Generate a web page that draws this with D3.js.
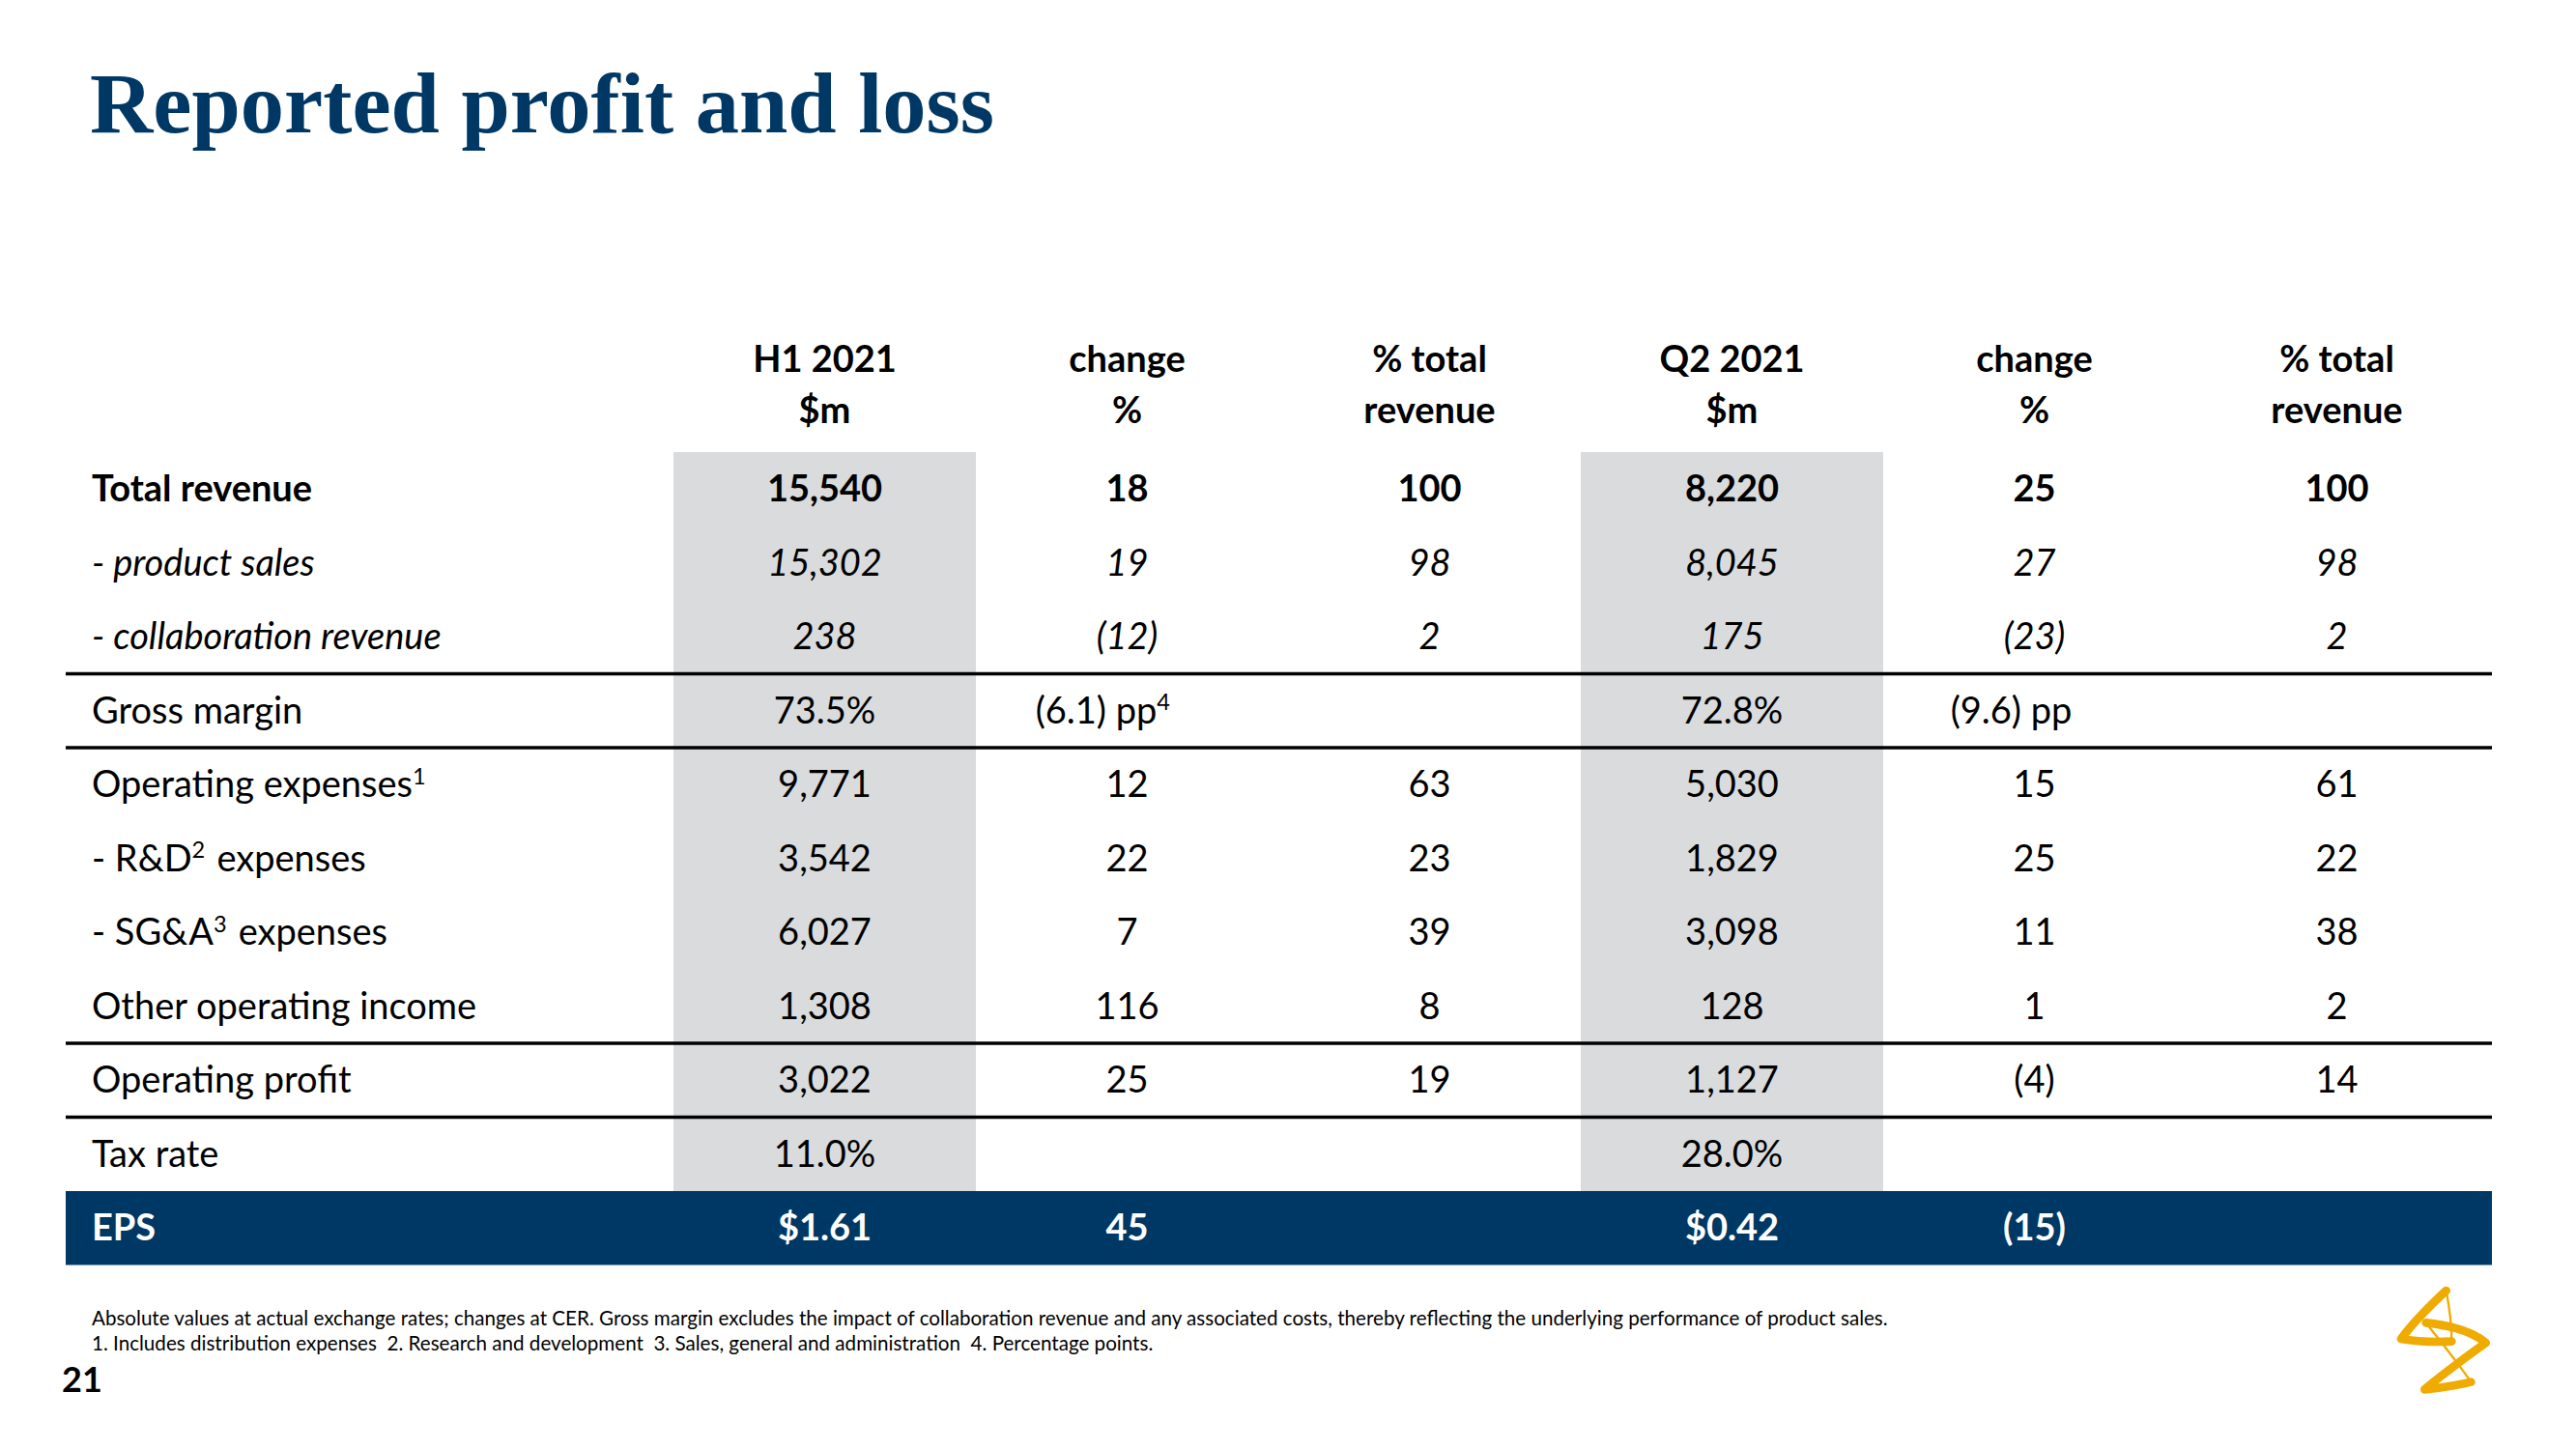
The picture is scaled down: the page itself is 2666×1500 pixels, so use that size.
<!DOCTYPE html>
<html>
<head>
<meta charset="utf-8">
<script src="https://cdn.jsdelivr.net/npm/d3@7"></script>
<style>
  html, body { margin: 0; padding: 0; background: #fff; }
  svg { display: block; }
  text { white-space: pre; }
</style>
</head>
<body>
<svg id="chart" width="2666" height="1500"></svg>
<script>
// ---------------- DATA ----------------
const title = "Reported profit and loss";
const headerLine1 = ["H1 2021", "change", "% total", "Q2 2021", "change", "% total"];
const headerLine2 = ["$m", "%", "revenue", "$m", "%", "revenue"];
const rowLabels = [
  "Total revenue", "- product sales", "- collaboration revenue", "Gross margin",
  "Operating expenses^1", "- R&D^2 expenses", "- SG&A^3 expenses", "Other operating income",
  "Operating profit", "Tax rate", "EPS"
];
const rowStyles = ["bold", "italic", "italic", "normal", "normal", "normal", "normal", "normal", "normal", "normal", "eps"];
const h1Value  = ["15,540", "15,302", "238", "73.5%", "9,771", "3,542", "6,027", "1,308", "3,022", "11.0%", "$1.61"];
const h1Change = ["18", "19", "(12)", "(6.1) pp^4", "12", "22", "7", "116", "25", "", "45"];
const h1Pct    = ["100", "98", "2", "", "63", "23", "39", "8", "19", "", ""];
const q2Value  = ["8,220", "8,045", "175", "72.8%", "5,030", "1,829", "3,098", "128", "1,127", "28.0%", "$0.42"];
const q2Change = ["25", "27", "(23)", "(9.6) pp", "15", "25", "11", "1", "(4)", "", "(15)"];
const q2Pct    = ["100", "98", "2", "", "61", "22", "38", "2", "14", "", ""];
const shadedColumns = [0, 3];
const ruleAfterRows = [2, 3, 7, 8];
const footnote1 = "Absolute values at actual exchange rates; changes at CER. Gross margin excludes the impact of collaboration revenue and any associated costs, thereby reflecting the underlying performance of product sales.";
const footnote2 = "1. Includes distribution expenses  2. Research and development  3. Sales, general and administration  4. Percentage points.";
const pageNumber = "21";

// ---------------- LAYOUT ----------------
const navy = "#003865";
const grey = "#d9dbdc";
const font = "Lato, 'Open Sans', sans-serif";
const fs = 38;           // body font size
const capOff = 13;       // baseline offset from row centre

const columns = [h1Value, h1Change, h1Pct, q2Value, q2Change, q2Pct];
const svg = d3.select("#chart");
svg.append("rect").attr("width", 2666).attr("height", 1500).attr("fill", "#fff");

const x = d3.scaleBand().domain(d3.range(columns.length)).range([697, 2575]).padding(0);
const y = d3.scaleBand().domain(d3.range(rowLabels.length)).range([468, 1309.5]).padding(0);
const tableLeft = 68, tableRight = 2579;

// title
svg.append("text")
  .attr("x", 93).attr("y", 137)
  .attr("font-family", "'Liberation Serif', 'DejaVu Serif', serif")
  .attr("font-weight", "bold").attr("font-size", 89)
  .attr("fill", navy)
  .attr("textLength", 936).attr("lengthAdjust", "spacingAndGlyphs")
  .text(title);

// shaded columns (stop at the EPS row)
const lastGrey = rowLabels.length - 2;
svg.selectAll("rect.shade").data(shadedColumns).join("rect")
  .attr("class", "shade")
  .attr("x", d => x(d)).attr("width", x.bandwidth())
  .attr("y", y(0)).attr("height", y(lastGrey) + y.bandwidth() - y(0))
  .attr("fill", grey);

// EPS bar
const epsRow = rowLabels.length - 1;
svg.append("rect")
  .attr("x", tableLeft).attr("width", tableRight - tableLeft)
  .attr("y", y(epsRow)).attr("height", y.bandwidth())
  .attr("fill", navy);

// rules
svg.selectAll("line.rule").data(ruleAfterRows).join("line")
  .attr("class", "rule")
  .attr("x1", tableLeft).attr("x2", tableRight)
  .attr("y1", d => y(d) + y.bandwidth()).attr("y2", d => y(d) + y.bandwidth())
  .attr("stroke", "#000").attr("stroke-width", 3.5);

// helper: write text with ^n superscripts
function writeRich(sel, str, size) {
  const parts = str.split(/\^(\d)/);
  parts.forEach((p, i) => {
    if (p === "") return;
    if (i % 2 === 1) {
      sel.append("tspan").attr("font-size", size * 0.62).attr("dy", -size * 0.36).text(p);
      sel.append("tspan").attr("font-size", size).attr("dy", size * 0.36).text("\u200A");
    } else {
      sel.append("tspan").text(p);
    }
  });
}

function styleFor(r) {
  const s = rowStyles[r];
  return {
    weight: (s === "bold" || s === "eps") ? "bold" : "normal",
    italic: s === "italic" ? "italic" : "normal",
    fill: s === "eps" ? "#fff" : "#000"
  };
}

// headers
[headerLine1, headerLine2].forEach((line, li) => {
  svg.selectAll("text.h" + li).data(line).join("text")
    .attr("class", "h" + li)
    .attr("x", (d, i) => x(i) + x.bandwidth() / 2)
    .attr("y", li === 0 ? 385 : 438)
    .attr("text-anchor", "middle")
    .attr("font-family", font).attr("font-weight", "bold").attr("font-size", fs)
    .attr("fill", "#000")
    .text(d => d);
});

// row labels
rowLabels.forEach((lab, r) => {
  const st = styleFor(r);
  const t = svg.append("text")
    .attr("x", 95).attr("y", y(r) + y.bandwidth() / 2 + capOff)
    .attr("font-family", font).attr("font-size", fs)
    .attr("font-weight", st.weight).attr("font-style", st.italic)
    .attr("fill", st.fill);
  writeRich(t, lab, fs);
});

// cells
columns.forEach((col, c) => {
  col.forEach((v, r) => {
    if (!v) return;
    const st = styleFor(r);
    const isPP = v.indexOf("pp") >= 0;
    const t = svg.append("text")
      .attr("x", x(c) + x.bandwidth() / 2 + (isPP ? -24 : 0))
      .attr("y", y(r) + y.bandwidth() / 2 + capOff)
      .attr("text-anchor", "middle")
      .attr("font-family", font).attr("font-size", fs)
      .attr("font-weight", st.weight).attr("font-style", st.italic)
      .attr("fill", st.fill);
    writeRich(t, v, fs);
  });
});

// footnotes
svg.append("text").attr("x", 95).attr("y", 1372)
  .attr("font-family", font).attr("font-size", 20.6).attr("fill", "#000")
  .text(footnote1);
svg.append("text").attr("x", 95).attr("y", 1398)
  .attr("font-family", font).attr("font-size", 20.6).attr("fill", "#000")
  .text(footnote2);

// page number
svg.append("text").attr("x", 64).attr("y", 1441)
  .attr("font-family", font).attr("font-weight", "bold").attr("font-size", 36).attr("fill", "#000")
  .text(pageNumber);

// logo (decorative)
const logo = svg.append("g").attr("transform", "translate(2440,1310) scale(0.3333)")
  .attr("fill", "none").attr("stroke", "#f0ab00").attr("stroke-linecap", "round").attr("stroke-linejoin", "round");
logo.append("path").attr("d", "M275,78 C230,120 170,180 135,228 C190,238 250,238 292,236").attr("stroke-width", 26);
logo.append("path").attr("d", "M275,78 C285,130 292,190 292,236").attr("stroke-width", 7);
logo.append("path").attr("d", "M212,178 C280,185 350,200 398,240 C330,290 260,340 208,385 C260,380 310,372 352,362").attr("stroke-width", 26);
logo.append("path").attr("d", "M212,178 C260,240 310,300 352,362").attr("stroke-width", 7);
</script>
</body>
</html>
